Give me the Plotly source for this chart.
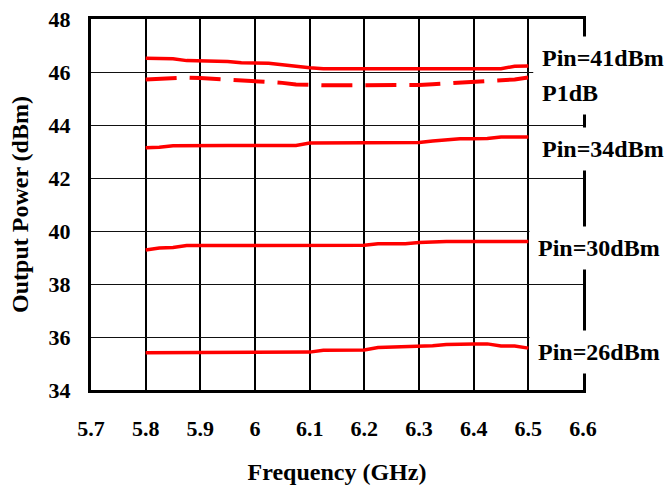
import plotly.graph_objects as go

# ---- data ----
freq = [5.8, 5.825, 5.85, 5.875, 5.9, 5.925, 5.95, 5.975, 6.0, 6.025, 6.05, 6.075,
        6.1, 6.125, 6.15, 6.175, 6.2, 6.225, 6.25, 6.275, 6.3, 6.325, 6.35, 6.375,
        6.4, 6.425, 6.45, 6.475, 6.5]

pin41 = [46.52, 46.52, 46.50, 46.43, 46.43, 46.43, 46.40, 46.35, 46.35, 46.33, 46.27, 46.20,
         46.16, 46.12, 46.12, 46.12, 46.12, 46.12, 46.12, 46.12, 46.12, 46.12, 46.12, 46.12,
         46.12, 46.12, 46.12, 46.22, 46.23]

p1db = [45.72, 45.74, 45.78, 45.79, 45.77, 45.74, 45.72, 45.71, 45.67, 45.63, 45.59, 45.53,
        45.50, 45.50, 45.50, 45.50, 45.50, 45.50, 45.50, 45.50, 45.51, 45.54, 45.57, 45.59,
        45.62, 45.65, 45.66, 45.72, 45.79]

pin34 = [43.14, 43.16, 43.22, 43.23, 43.23, 43.23, 43.23, 43.23, 43.23, 43.23, 43.23, 43.23,
         43.32, 43.32, 43.32, 43.32, 43.32, 43.32, 43.32, 43.32, 43.34, 43.40, 43.45, 43.48,
         43.48, 43.49, 43.55, 43.55, 43.55]

pin30 = [39.28, 39.36, 39.38, 39.45, 39.45, 39.45, 39.45, 39.45, 39.45, 39.45, 39.45, 39.45,
         39.45, 39.45, 39.45, 39.45, 39.46, 39.52, 39.52, 39.52, 39.57, 39.60, 39.60, 39.60,
         39.60, 39.60, 39.60, 39.60, 39.60]

pin26 = [35.41, 35.41, 35.41, 35.41, 35.41, 35.41, 35.41, 35.41, 35.41, 35.41, 35.41, 35.41,
         35.43, 35.50, 35.50, 35.50, 35.51, 35.60, 35.61, 35.65, 35.66, 35.67, 35.72, 35.74,
         35.74, 35.74, 35.66, 35.66, 35.58]

series_names = ["Pin=41dBm", "P1dB", "Pin=34dBm", "Pin=30dBm", "Pin=26dBm"]

FONT = "Liberation Serif"
RED = "#ff0000"

fig = go.Figure()
for name, vals, dash in [
    (series_names[0], pin41, "solid"),
    (series_names[1], p1db, "31px,13px"),
    (series_names[2], pin34, "solid"),
    (series_names[3], pin30, "solid"),
    (series_names[4], pin26, "solid"),
]:
    fig.add_trace(go.Scatter(x=freq, y=vals, mode="lines", name=name,
                             line=dict(color=RED, width=4 if dash != "solid" else 3.5, dash=dash),
                             showlegend=False))

# ---- layout geometry (body margin removed in post_script) ----
W, H = 664, 489
L, R, T, B = 91, W - 583, 19, H - 390
pw, ph = W - L - R, H - T - B

def px2paper_x(px):
    return (px - L) / pw

def px2paper_y(py):
    return (H - B - py) / ph

label_pos = [(533, 58), (533, 93), (533, 149), (529, 248), (529, 352)]
for name, (lx, ly) in zip(series_names, label_pos):
    fig.add_annotation(xref="paper", yref="paper", x=px2paper_x(lx), y=px2paper_y(ly),
                       xanchor="left", yanchor="middle", text=name, showarrow=False,
                       bgcolor="white", borderpad=8,
                       font=dict(family=FONT, size=24, color="black", weight="bold"))

fig.update_layout(
    width=W, height=H,
    margin=dict(l=L, r=R, t=T, b=B, autoexpand=False),
    paper_bgcolor="white", plot_bgcolor="white",
    font=dict(family=FONT, color="black"),
)

fig.update_xaxes(
    range=[5.7, 6.6], tick0=5.7, dtick=0.1,
    showgrid=True, gridcolor="black", gridwidth=2,
    showline=True, linecolor="black", linewidth=3, mirror=True,
    ticks="", ticklabelstandoff=17, zeroline=False, ticklabeloverflow="allow",
    tickfont=dict(family=FONT, size=22, color="black", weight="bold"),
    title=dict(text="Frequency (GHz)", standoff=23,
               font=dict(family=FONT, size=24, color="black", weight="bold")),
)
fig.update_yaxes(
    range=[34, 48], tick0=34, dtick=2,
    showgrid=True, gridcolor="#111", gridwidth=1.3,
    showline=True, linecolor="black", linewidth=3, mirror=True,
    ticks="", ticklabelstandoff=13, zeroline=False, ticklabeloverflow="allow",
    tickfont=dict(family=FONT, size=22, color="black", weight="bold"),
    title=dict(text="Output Power (dBm)", standoff=14,
               font=dict(family=FONT, size=24, color="black", weight="bold")),
)

fig.write_html("out.html", config={"displayModeBar": False},
               post_script="document.body.style.margin='0';document.body.style.overflow='hidden';")
